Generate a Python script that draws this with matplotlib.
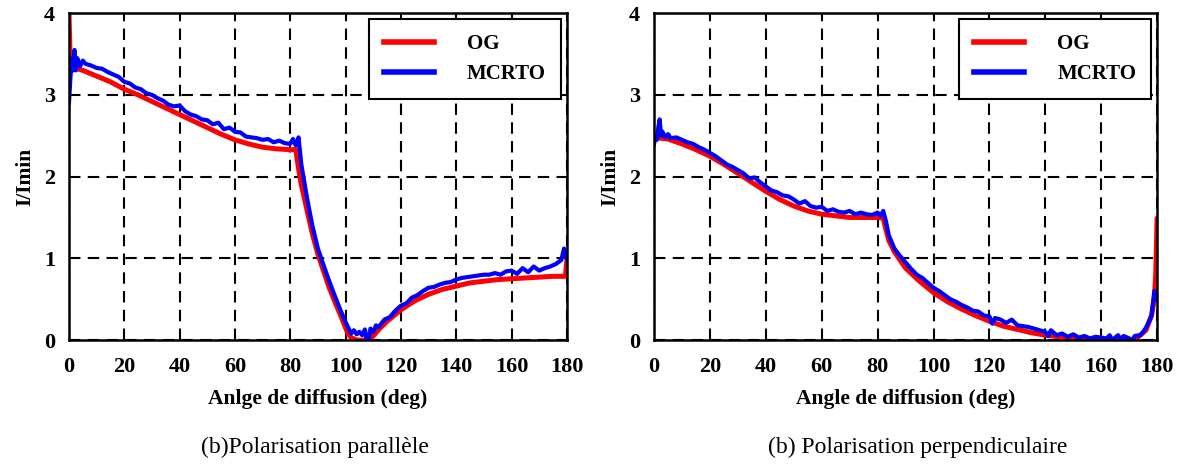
import matplotlib
matplotlib.use("Agg")
import matplotlib.pyplot as plt

plt.rcParams['font.family'] = ['Liberation Serif', 'DejaVu Serif']

# --- polarisation parallele ---
par_og_x = [0, 0.5, 5, 10, 15, 20, 25, 30, 35, 40, 45, 50, 55, 60, 65, 70, 75, 80, 82,
            83, 84, 86, 88, 90, 92, 94, 96, 98, 100, 101, 102, 104, 106, 108, 110, 112,
            115, 120, 125, 130, 135, 140, 145, 150, 155, 160, 165, 170, 175, 179.5, 180]
par_og_y = [4.0, 3.35, 3.3, 3.23, 3.16, 3.07, 3.0, 2.92, 2.84, 2.76, 2.68, 2.6, 2.52, 2.45,
            2.4, 2.36, 2.34, 2.33, 2.33, 2.1, 1.9, 1.6, 1.3, 1.05, 0.85, 0.65, 0.48, 0.32,
            0.15, 0.07, 0.03, 0.0, 0.0, 0.0, 0.05, 0.13, 0.23, 0.37, 0.48, 0.56, 0.62,
            0.66, 0.70, 0.72, 0.74, 0.75, 0.76, 0.77, 0.78, 0.78, 0.97]

par_mc_x = [0, 0.5, 1, 1.5, 2, 2.5, 3, 4, 5, 6, 8, 10, 12, 14, 16, 18, 20, 22, 24, 26, 28,
            30, 32, 34, 36, 38, 40, 42, 44, 46, 48, 50, 52, 54, 56, 58, 60, 62, 64, 66, 68,
            70, 72, 74, 76, 78, 80, 81, 82, 83, 84, 86, 88, 90, 92, 94, 96, 98, 100, 101,
            102, 103, 104, 105, 106, 107, 108, 109, 110, 111, 112, 114, 116, 118, 120, 122,
            124, 126, 128, 130, 132, 134, 136, 138, 140, 142, 144, 146, 148, 150, 152, 154,
            156, 158, 160, 162, 164, 166, 168, 170, 172, 174, 176, 178, 179, 180]
par_mc_y = [2.9, 3.2, 3.45, 3.3, 3.55, 3.3, 3.45, 3.35, 3.42, 3.38, 3.36, 3.33, 3.32, 3.28,
            3.25, 3.22, 3.16, 3.14, 3.09, 3.07, 3.02, 3.0, 2.96, 2.93, 2.88, 2.86, 2.87,
            2.8, 2.76, 2.74, 2.7, 2.69, 2.64, 2.66, 2.58, 2.6, 2.55, 2.54, 2.49, 2.48, 2.47,
            2.45, 2.46, 2.42, 2.44, 2.41, 2.4, 2.46, 2.38, 2.48, 2.15, 1.75, 1.4, 1.12,
            0.92, 0.73, 0.55, 0.38, 0.22, 0.15, 0.08, 0.12, 0.07, 0.1, 0.06, 0.13, -0.08,
            0.14, 0.1, 0.18, 0.16, 0.25, 0.28, 0.36, 0.42, 0.45, 0.52, 0.55, 0.6, 0.64,
            0.65, 0.68, 0.7, 0.71, 0.74, 0.76, 0.77, 0.78, 0.79, 0.8, 0.8, 0.82, 0.8, 0.84,
            0.85, 0.81, 0.88, 0.83, 0.9, 0.85, 0.88, 0.9, 0.93, 0.98, 1.12, 1.0]

# --- polarisation perpendiculaire ---
per_og_x = [0, 5, 10, 15, 20, 25, 30, 35, 40, 45, 50, 55, 60, 65, 70, 75, 80, 82, 83, 84,
            86, 88, 90, 95, 100, 105, 110, 115, 120, 125, 130, 135, 140, 145, 150, 155,
            160, 165, 170, 173, 176, 178, 179, 179.5, 180]
per_og_y = [2.48, 2.46, 2.4, 2.33, 2.25, 2.15, 2.04, 1.93, 1.82, 1.72, 1.64, 1.58, 1.54,
            1.52, 1.5, 1.5, 1.5, 1.49, 1.35, 1.22, 1.08, 0.98, 0.88, 0.72, 0.58, 0.47,
            0.38, 0.3, 0.23, 0.17, 0.13, 0.09, 0.06, 0.04, 0.02, 0.0, -0.01, -0.01, 0.0,
            0.03, 0.12, 0.3, 0.5, 0.8, 1.48]

per_mc_x = [0, 0.5, 1, 1.5, 2, 2.5, 3, 4, 5, 6, 8, 10, 12, 14, 16, 18, 20, 22, 24, 26, 28,
            30, 32, 34, 36, 38, 40, 42, 44, 46, 48, 50, 52, 54, 56, 58, 60, 62, 64, 66, 68,
            70, 72, 74, 76, 78, 80, 81, 82, 83, 84, 86, 88, 90, 92, 94, 96, 98, 100, 102,
            104, 106, 108, 110, 112, 114, 116, 118, 120, 121, 122, 124, 126, 128, 130, 132,
            134, 136, 138, 140, 141, 142, 144, 146, 148, 150, 152, 154, 156, 158, 160, 162,
            163, 164, 166, 167, 168, 170, 171, 172, 174, 175, 176, 177, 178, 179, 179.5]
per_mc_y = [2.4, 2.5, 2.45, 2.6, 2.7, 2.5, 2.55, 2.48, 2.52, 2.47, 2.48, 2.45, 2.42, 2.4,
            2.36, 2.33, 2.29, 2.25, 2.2, 2.15, 2.12, 2.08, 2.04, 1.98, 1.99, 1.93, 1.88,
            1.83, 1.81, 1.77, 1.76, 1.72, 1.67, 1.7, 1.64, 1.62, 1.63, 1.58, 1.6, 1.57,
            1.56, 1.58, 1.54, 1.56, 1.54, 1.53, 1.56, 1.52, 1.58, 1.45, 1.28, 1.12, 1.03,
            0.95, 0.87, 0.8, 0.76, 0.7, 0.64, 0.6, 0.55, 0.5, 0.47, 0.43, 0.4, 0.36, 0.35,
            0.3, 0.29, 0.2, 0.27, 0.25, 0.21, 0.25, 0.18, 0.17, 0.16, 0.14, 0.12, 0.1, 0.05,
            0.12, 0.06, 0.08, 0.04, 0.07, 0.03, 0.05, 0.02, 0.04, 0.03, 0.02, 0.06, 0.0,
            0.06, 0.01, 0.05, 0.02, -0.03, 0.05, 0.06, 0.1, 0.15, 0.22, 0.3, 0.6, 0.5]

xticks = [0, 20, 40, 60, 80, 100, 120, 140, 160, 180]
yticks = [0, 1, 2, 3, 4]
xlabels = ["Anlge de diffusion (deg)", "Angle de diffusion (deg)"]
captions = ["(b)Polarisation parallèle", "(b) Polarisation perpendiculaire"]

fig = plt.figure(figsize=(11.77, 4.71), dpi=100)
ax1 = fig.add_axes([0.0586, 0.278, 0.423, 0.694])
ax2 = fig.add_axes([0.5557, 0.278, 0.4274, 0.694])

panels = [(ax1, par_og_x, par_og_y, par_mc_x, par_mc_y),
          (ax2, per_og_x, per_og_y, per_mc_x, per_mc_y)]

for i, (ax, ox, oy, mx, my) in enumerate(panels):
    ax.plot(ox, oy, color='#ff0000', lw=3.6, label='OG', solid_joinstyle='round')
    ax.plot(mx, my, color='#0000ff', lw=3.0, label='MCRTO')
    ax.set_xlim(0, 180)
    ax.set_ylim(0, 4)
    ax.set_xticks(xticks)
    ax.set_yticks(yticks)
    ax.grid(True, color='black', linestyle=(0, (5.5, 3.5)), lw=1.5)
    ax.tick_params(length=0, labelsize=16)
    ax.tick_params(axis='x', pad=12)
    ax.tick_params(axis='y', pad=10)
    for lab in ax.get_xticklabels() + ax.get_yticklabels():
        lab.set_fontweight('bold')
    for sp in ax.spines.values():
        sp.set_linewidth(1.8)
    ax.set_xlabel(xlabels[i], fontsize=15.5, fontweight='bold', labelpad=9)
    ax.set_ylabel('I/Imin', fontsize=15.5, fontweight='bold', labelpad=6)
    leg = ax.legend(loc='upper right', fancybox=False, framealpha=1,
                    edgecolor='black', handlelength=2.4, handletextpad=1.6,
                    borderpad=0.7, labelspacing=0.5, borderaxespad=0.3,
                    prop={'weight': 'bold', 'size': 15})
    leg.get_frame().set_linewidth(1.5)
    for line in leg.get_lines():
        line.set_linewidth(4)

fig.text(0.268, 0.05, captions[0], ha='center', va='center', fontsize=17)
fig.text(0.78, 0.05, captions[1], ha='center', va='center', fontsize=17)

fig.savefig('out.png', dpi=100)
